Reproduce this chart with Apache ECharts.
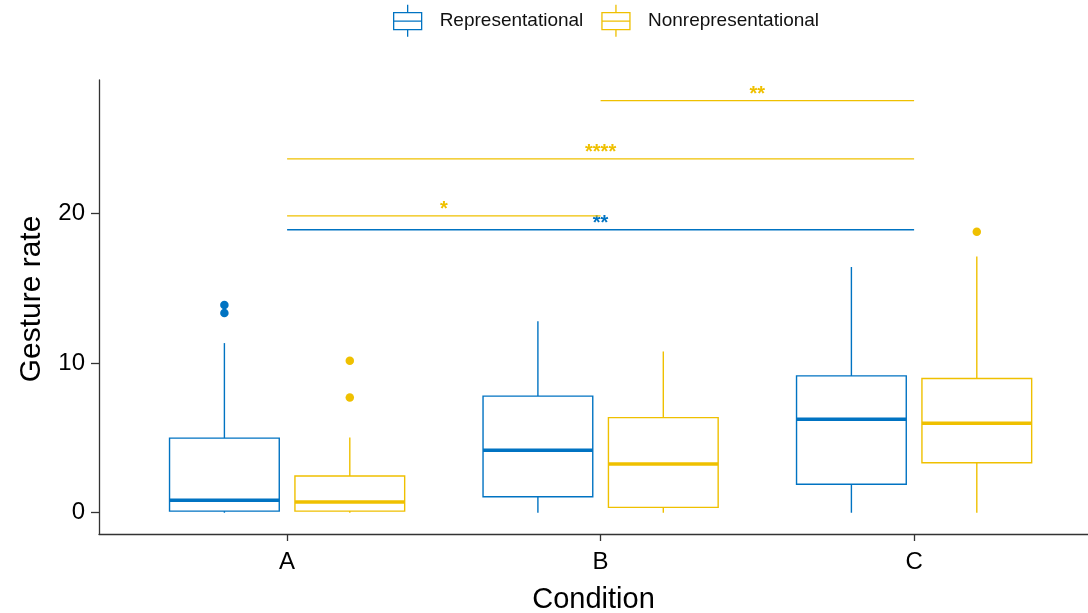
<!DOCTYPE html>
<html><head><meta charset="utf-8">
<script src="https://cdn.jsdelivr.net/npm/echarts@6/dist/echarts.min.js"></script>
<style>html,body{margin:0;padding:0;background:#fff}#c{width:1088px;height:613px}</style>
</head><body><div id="c"></div>
<script>
// ---------- data ----------
const categories = ['A', 'B', 'C'];
const groups = ['Representational', 'Nonrepresentational'];
const yTicks = [0, 10, 20];
// [lower whisker, Q1, median, Q3, upper whisker] per category
const repBox    = [[0, 0.11, 0.83, 4.98, 11.33], [0, 1.07, 4.17, 7.79, 12.78], [0, 1.90, 6.25, 9.14, 16.41]];
const nonrepBox = [[0, 0.11, 0.72, 2.45, 5.02],  [0, 0.36, 3.26, 6.35, 10.77], [0, 3.34, 5.98, 8.96, 17.12]];
// outliers: [category, value]
const repOutliers    = [['A', 13.88], ['A', 13.34]];
const nonrepOutliers = [['A', 10.15], ['A', 7.69], ['C', 18.76]];
// significance brackets
const bracketGroup = ['Representational', 'Nonrepresentational', 'Nonrepresentational', 'Nonrepresentational'];
const bracketFrom  = ['A', 'A', 'A', 'B'];
const bracketTo    = ['C', 'B', 'C', 'C'];
const bracketY     = [18.9, 19.82, 23.63, 27.52];
const bracketLabel = ['**', '*', '****', '**'];

// ---------- styles ----------
const colors = ['#0073C2', '#EFC000'];
const FONT = '"Liberation Sans", Arial, sans-serif';
const dodge = 0.2, boxWidth = 0.35;

function boxRender(gi) {
  const off = gi === 0 ? -dodge : dodge;
  return function (params, api) {
    const x = api.value(0) + 1 + off;
    const pLo = api.coord([x, api.value(1)]);
    const pQ1 = api.coord([x, api.value(2)]);
    const pMd = api.coord([x, api.value(3)]);
    const pQ3 = api.coord([x, api.value(4)]);
    const pHi = api.coord([x, api.value(5)]);
    const hw = api.size([boxWidth, 0])[0] / 2;
    const c = colors[gi];
    return {
      type: 'group', children: [
        { type: 'line', shape: { x1: pHi[0], y1: pHi[1], x2: pQ3[0], y2: pQ3[1] }, style: { stroke: c, lineWidth: 1.4 } },
        { type: 'line', shape: { x1: pQ1[0], y1: pQ1[1], x2: pLo[0], y2: pLo[1] }, style: { stroke: c, lineWidth: 1.4 } },
        { type: 'rect', shape: { x: pQ3[0] - hw, y: pQ3[1], width: 2 * hw, height: pQ1[1] - pQ3[1] }, style: { stroke: c, lineWidth: 1.4, fill: '#fff' } },
        { type: 'line', shape: { x1: pMd[0] - hw, y1: pMd[1], x2: pMd[0] + hw, y2: pMd[1] }, style: { stroke: c, lineWidth: 3.5 } }
      ]
    };
  };
}

function bracketRender(params, api) {
  const i = params.dataIndex;
  const p1 = api.coord([api.value(0) + 1, api.value(2)]);
  const p2 = api.coord([api.value(1) + 1, api.value(2)]);
  const c = colors[groups.indexOf(bracketGroup[i])];
  return {
    type: 'group', children: [
      { type: 'line', shape: { x1: p1[0], y1: p1[1], x2: p2[0], y2: p2[1] }, style: { stroke: c, lineWidth: 1.3 } },
      { type: 'text', x: (p1[0] + p2[0]) / 2, y: p1[1] - 6,
        style: { text: bracketLabel[i], fill: c, fontSize: 20, fontWeight: 'bold', fontFamily: FONT, align: 'center', verticalAlign: 'middle' } }
    ]
  };
}

const iconPath = 'path://M14 0 L14 8 M0 8 L28 8 L28 25 L0 25 Z M0 16.5 L28 16.5 M14 25 L14 32';

const chart = echarts.init(document.getElementById('c'), null, { renderer: 'canvas' });
chart.setOption({
  animation: false,
  backgroundColor: '#fff',
  textStyle: { fontFamily: FONT },
  legend: {
    top: 4, left: 393, padding: 0, itemWidth: 28, itemHeight: 32, itemGap: 18,
    textStyle: { fontSize: 19, color: '#111', padding: [7, 0, 0, 13], fontFamily: FONT },
    data: groups.map((g, i) => ({
      name: g, icon: iconPath,
      itemStyle: { color: 'rgba(0,0,0,0)', borderColor: colors[i], borderWidth: 1.3 }
    }))
  },
  grid: { left: 99, top: 80, bottom: 79, right: 0, outerBoundsMode: 'none', containLabel: false },
  xAxis: {
    type: 'value', min: 0.4, max: 3.5547,
    name: 'Condition', nameLocation: 'middle', nameGap: 51,
    nameTextStyle: { fontSize: 29, color: '#000', fontFamily: FONT },
    axisLine: { show: true, onZero: false, lineStyle: { color: '#333', width: 1.3 } },
    axisTick: { show: true, length: 7, customValues: [1, 2, 3], lineStyle: { color: '#333', width: 1.3 } },
    axisLabel: { customValues: [1, 2, 3], formatter: v => categories[Math.round(v) - 1], fontSize: 24, color: '#000', margin: 16, fontFamily: FONT },
    splitLine: { show: false }
  },
  yAxis: {
    type: 'value', min: -1.42, max: 28.9,
    name: 'Gesture rate', nameLocation: 'middle', nameGap: 52,
    nameTextStyle: { fontSize: 30, color: '#000', fontFamily: FONT, padding: [0, 0, 0, 16] },
    axisLine: { show: true, onZero: false, lineStyle: { color: '#333', width: 1.3 } },
    axisTick: { show: true, length: 8, customValues: yTicks, lineStyle: { color: '#333', width: 1.3 } },
    axisLabel: { customValues: yTicks, fontSize: 24, color: '#000', margin: 14, fontFamily: FONT },
    splitLine: { show: false }
  },
  series: [
    { type: 'custom', name: groups[0], renderItem: boxRender(0), itemStyle: { color: colors[0] },
      data: repBox.map((b, i) => [i, ...b]), encode: { x: 0, y: [1, 2, 3, 4, 5] }, z: 2 },
    { type: 'custom', name: groups[1], renderItem: boxRender(1), itemStyle: { color: colors[1] },
      data: nonrepBox.map((b, i) => [i, ...b]), encode: { x: 0, y: [1, 2, 3, 4, 5] }, z: 2 },
    { type: 'scatter', name: groups[0], symbolSize: 8.5, itemStyle: { color: colors[0], opacity: 1 }, z: 3,
      data: repOutliers.map(o => [categories.indexOf(o[0]) + 1 - dodge, o[1]]) },
    { type: 'scatter', name: groups[1], symbolSize: 8.5, itemStyle: { color: colors[1], opacity: 1 }, z: 3,
      data: nonrepOutliers.map(o => [categories.indexOf(o[0]) + 1 + dodge, o[1]]) },
    { type: 'custom', name: 'significance', renderItem: bracketRender, z: 4,
      data: bracketY.map((y, i) => [categories.indexOf(bracketFrom[i]), categories.indexOf(bracketTo[i]), y]),
      encode: { x: [0, 1], y: 2 } }
  ]
});
</script></body></html>
